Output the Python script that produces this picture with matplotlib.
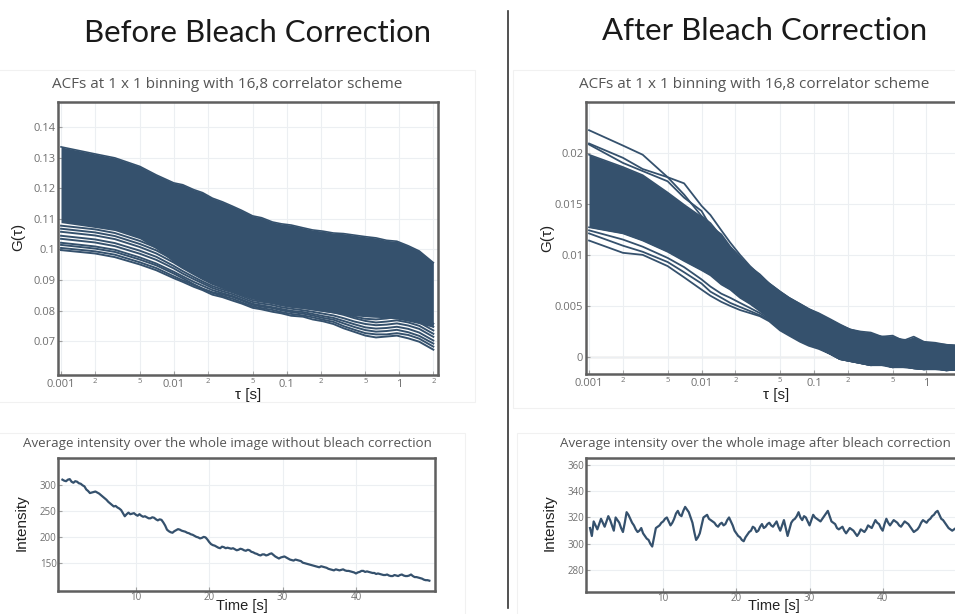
import matplotlib
matplotlib.use("Agg")
import matplotlib.pyplot as plt
from matplotlib.ticker import FixedLocator, FixedFormatter
from matplotlib.patches import Rectangle

W, H = 955, 614
LINE = "#35516d"
FRAME = "#5f5f5f"
GRID = "#eceff2"
TICKLAB = "#6f6f6f"

# ---------------------------------------------------------------- data
# correlator lag times [s]
lags = [0.001, 0.002, 0.003, 0.005, 0.007, 0.01, 0.012, 0.015, 0.018, 0.022,
        0.027, 0.033, 0.04, 0.05, 0.06, 0.075, 0.09, 0.11, 0.14, 0.17,
        0.21, 0.26, 0.32, 0.4, 0.5, 0.62, 0.77, 0.95, 1.2, 1.5, 2.0]

# ACFs before bleach correction: dense bundle (upper / lower edge of the core)
before_core_hi = [.1336, .1313, .1300, .1272, .1244, .1218, .1212, .1196, .1186, .1168,
                  .1156, .1142, .1128, .1110, .1104, .1090, .1084, .1080, .1071, .1064,
                  .1060, .1054, .1052, .1047, .1042, .1038, .1030, .1027, .1012, .0995, .0957]
before_core_lo = [.1088, .1072, .1062, .1035, .1002, .0958, .0940, .0920, .0903, .0886,
                  .0872, .0860, .0850, .0838, .0831, .0824, .0818, .0812, .0807, .0802,
                  .0797, .0792, .0787, .0783, .0780, .0778, .0776, .0772, .0765, .0757, .0745]
# ACFs before bleach correction: separated curves below the bundle
before_curves = [
    [.1078, .1066, .1054, .1028, .1006, .0975, .0955, .0933, .0917, .0899, .0888, .0878, .0866, .0852, .0847, .0842,
     .0836, .0831, .0827, .0822, .0817, .0812, .0806, .0797, .0791, .0790, .0794, .0800, .0795, .0784, .0757],
    [.1068, .1056, .1044, .1018, .0997, .0966, .0947, .0926, .0910, .0893, .0882, .0872, .0860, .0846, .0841, .0836,
     .0830, .0825, .0821, .0815, .0810, .0805, .0798, .0789, .0782, .0781, .0784, .0790, .0784, .0773, .0747],
    [.1058, .1046, .1034, .1008, .0987, .0957, .0939, .0919, .0903, .0887, .0876, .0866, .0854, .0840, .0835, .0830,
     .0823, .0818, .0814, .0808, .0802, .0797, .0790, .0780, .0773, .0771, .0774, .0779, .0773, .0761, .0735],
    [.1045, .1033, .1021, .0996, .0976, .0946, .0929, .0910, .0895, .0880, .0869, .0860, .0848, .0834, .0829, .0824,
     .0817, .0812, .0808, .0804, .0799, .0794, .0786, .0775, .0766, .0761, .0764, .0768, .0761, .0750, .0724],
    [.1035, .1023, .1011, .0986, .0966, .0938, .0921, .0903, .0889, .0874, .0863, .0854, .0842, .0828, .0823, .0818,
     .0811, .0806, .0801, .0796, .0790, .0784, .0775, .0764, .0756, .0752, .0754, .0758, .0751, .0740, .0714],
    [.1022, .1010, .0999, .0974, .0954, .0927, .0912, .0894, .0881, .0867, .0857, .0848, .0836, .0822, .0817, .0811,
     .0805, .0799, .0795, .0789, .0782, .0776, .0766, .0755, .0745, .0741, .0743, .0747, .0740, .0728, .0702],
    [.1015, .1003, .0992, .0967, .0948, .0921, .0906, .0886, .0872, .0860, .0853, .0845, .0833, .0819, .0813, .0808,
     .0801, .0795, .0790, .0784, .0776, .0770, .0758, .0746, .0736, .0731, .0733, .0737, .0729, .0717, .0692],
    [.1005, .0994, .0983, .0958, .0939, .0912, .0899, .0884, .0871, .0858, .0848, .0839, .0827, .0814, .0808, .0802,
     .0795, .0789, .0784, .0778, .0770, .0763, .0749, .0737, .0726, .0722, .0722, .0726, .0720, .0708, .0682],
    [.0998, .0987, .0975, .0951, .0932, .0906, .0894, .0878, .0867, .0852, .0844, .0833, .0823, .0809, .0804, .0796,
     .0791, .0783, .0780, .0771, .0765, .0756, .0742, .0730, .0718, .0712, .0715, .0718, .0709, .0698, .0672],
]

# ACFs after bleach correction: dense bundle
after_core_hi = [.0198, .0186, .0178, .0161, .0149, .0137, .0129, .0118, .0107, .0097,
                 .0088, .0081, .0072, .0064, .0058, .0052, .0047, .0043, .0037, .0032,
                 .0027, .0025, .0024, .0020, .0021, .0016, .0020, .0015, .0014, .0012, .0011]
after_core_lo = [.0127, .0121, .0114, .0103, .0094, .0085, .0080, .0071, .0066, .0058,
                 .0052, .0045, .0038, .0027, .0022, .0016, .0012, .0009, .0003, -.0002,
                 -.0004, -.0006, -.0008, -.0007, -.0010, -.0009, -.0011, -.0012, -.0011, -.0013, -.0012]
# ACFs after bleach correction: separated curves
after_curves = [
    [.0222, .0207, .0198, .0176, .0159, .0138, .0131, .0118, .0104, .0096, .0086, .0079, .0072, .0064, .0058, .0052,
     .0047, .0042, .0036, .0031, .0027, .0024, .0022, .0020, .0019, .0017, .0016, .0014, .0013, .0012, .0011],
    [.0209, .0195, .0184, .0176, .0170, .0148, .0139, .0124, .0112, .0100, .0089, .0080, .0071, .0063, .0057, .0051,
     .0046, .0042, .0036, .0031, .0026, .0023, .0021, .0019, .0018, .0016, .0015, .0013, .0012, .0011, .0010],
    [.0208, .0190, .0182, .0172, .0156, .0143, .0128, .0120, .0108, .0098, .0086, .0078, .0070, .0062, .0056, .0050,
     .0045, .0041, .0035, .0030, .0025, .0022, .0020, .0018, .0017, .0015, .0014, .0012, .0011, .0010, .0009],
    [.0124, .0115, .0108, .0097, .0088, .0076, .0069, .0062, .0058, .0053, .0048, .0043, .0037, .0027, .0022, .0016,
     .0012, .0009, .0003, -.0002, -.0004, -.0006, -.0008, -.0007, -.0010, -.0009, -.0011, -.0012, -.0011, -.0013, -.0012],
    [.0121, .0109, .0103, .0093, .0083, .0072, .0064, .0058, .0053, .0049, .0045, .0041, .0036, .0027, .0022, .0016,
     .0012, .0009, .0003, -.0002, -.0004, -.0006, -.0008, -.0007, -.0010, -.0009, -.0011, -.0012, -.0011, -.0013, -.0012],
    [.0114, .0102, .0100, .0089, .0078, .0066, .0060, .0054, .0050, .0046, .0043, .0040, .0035, .0026, .0021, .0015,
     .0011, .0008, .0003, -.0002, -.0004, -.0006, -.0008, -.0008, -.0010, -.0010, -.0011, -.0012, -.0012, -.0013, -.0012],
]

# average image intensity over the 50 s acquisition (one value per 0.25 s)
intensity_before = [
    311, 309, 308, 311, 312, 307, 305, 308, 307, 304, 303, 300, 298, 292, 289, 285, 286, 287, 288, 286,
    284, 281, 278, 275, 272, 268, 265, 262, 259, 260, 257, 255, 252, 246, 240, 244, 247, 244, 245, 246,
    243, 241, 244, 241, 239, 240, 238, 236, 236, 238, 237, 234, 232, 234, 233, 228, 222, 214, 211, 209,
    208, 211, 213, 215, 214, 212, 211, 210, 208, 207, 205, 204, 202, 200, 199, 197, 198, 200, 199, 195,
    190, 186, 184, 183, 181, 179, 178, 181, 180, 178, 179, 178, 177, 178, 176, 174, 175, 177, 176, 174,
    173, 175, 174, 171, 170, 168, 167, 165, 164, 166, 166, 164, 165, 167, 168, 165, 162, 160, 158, 160,
    161, 162, 160, 158, 156, 155, 154, 156, 155, 154, 153, 150, 149, 148, 147, 146, 145, 144, 143, 142,
    141, 143, 142, 141, 140, 138, 137, 136, 135, 137, 136, 135, 136, 137, 135, 134, 134, 133, 132, 131,
    129, 131, 132, 134, 134, 132, 133, 132, 131, 130, 130, 128, 129, 128, 127, 126, 126, 127, 125, 124,
    124, 126, 125, 124, 126, 127, 125, 124, 124, 125, 127, 124, 122, 122, 121, 120, 119, 117, 116, 116,
    115]
intensity_after = [
    312, 306, 317, 314, 311, 315, 319, 316, 313, 317, 321, 318, 314, 310, 320, 318, 316, 312, 309, 316,
    324, 322, 319, 316, 314, 311, 309, 310, 312, 308, 306, 304, 303, 300, 298, 305, 312, 313, 314, 316,
    317, 319, 320, 317, 314, 316, 319, 323, 325, 322, 321, 325, 328, 326, 324, 320, 316, 309, 303, 305,
    308, 314, 320, 321, 322, 319, 318, 317, 316, 314, 313, 315, 316, 314, 315, 318, 320, 317, 314, 310,
    308, 306, 305, 303, 302, 305, 307, 309, 310, 313, 312, 309, 310, 313, 315, 312, 313, 315, 316, 314,
    313, 315, 317, 313, 310, 314, 318, 312, 306, 311, 316, 318, 319, 321, 324, 320, 318, 321, 320, 317,
    314, 318, 322, 320, 319, 318, 317, 319, 321, 323, 325, 321, 317, 316, 315, 312, 311, 312, 313, 310,
    308, 310, 312, 311, 310, 308, 306, 308, 311, 310, 309, 311, 314, 313, 312, 315, 318, 316, 315, 312,
    310, 315, 319, 316, 314, 316, 318, 317, 316, 314, 313, 315, 317, 316, 315, 313, 311, 309, 310, 311,
    313, 316, 318, 317, 316, 318, 319, 321, 322, 324, 325, 322, 319, 318, 316, 314, 312, 311, 310, 311,
    312]
time_before = [50 * i / (len(intensity_before) - 1) for i in range(len(intensity_before))]
time_after = [50 * i / (len(intensity_after) - 1) for i in range(len(intensity_after))]

lag_major = [0.001, 0.01, 0.1, 1]
lag_major_labels = ["0.001", "0.01", "0.1", "1"]
lag_minor = [0.002, 0.005, 0.02, 0.05, 0.2, 0.5, 2]
lag_minor_labels = ["2", "5", "2", "5", "2", "5", "2"]
lag_minor_labels_after = ["2", "5", "2", "5", "2", "5", ""]
before_yticks = [0.07, 0.08, 0.09, 0.1, 0.11, 0.12, 0.13, 0.14]
after_yticks = [0, 0.005, 0.01, 0.015, 0.02]
time_ticks = [10, 20, 30, 40]
int_before_ticks = [150, 200, 250, 300]
int_after_ticks = [280, 300, 320, 340, 360]

# ---------------------------------------------------------------- figure
plt.rcParams["font.family"] = ["Open Sans", "DejaVu Sans"]
fig = plt.figure(figsize=(W / 100, H / 100), dpi=100)
fig.patch.set_facecolor("white")


def fx(x):
    return x / W


def fy(y):
    return 1 - y / H


def px_axes(x0, y0, x1, y1):
    return fig.add_axes([x0 / W, 1 - y1 / H, (x1 - x0) / W, (y1 - y0) / H])


# faint panel outlines
for (x0, y0, x1, y1) in [(-2, 70, 475, 402), (513, 70, 960, 408),
                         (-2, 433, 465, 620), (517, 433, 960, 620)]:
    fig.patches.append(Rectangle((fx(x0), fy(y1)), (x1 - x0) / W, (y1 - y0) / H,
                                 transform=fig.transFigure, fill=False,
                                 edgecolor="#f1f1f1", linewidth=0.8, zorder=0))


def style(ax, labelsize=8, pad=2):
    for s in ax.spines.values():
        s.set_color(FRAME)
        s.set_linewidth(1.8)
    ax.tick_params(which="both", direction="in", length=3, color="#a0a0a0",
                   labelcolor=TICKLAB, labelsize=labelsize, pad=pad)
    ax.grid(True, which="both", color=GRID, linewidth=0.8)
    ax.set_axisbelow(True)


def acf_axes(ax, minor_labels):
    ax.set_xscale("log")
    ax.set_xlim(0.00094, 2.2)
    ax.xaxis.set_major_locator(FixedLocator(lag_major))
    ax.xaxis.set_major_formatter(FixedFormatter(lag_major_labels))
    ax.xaxis.set_minor_locator(FixedLocator(lag_minor))
    ax.xaxis.set_minor_formatter(FixedFormatter(minor_labels))
    ax.tick_params(axis="x", which="minor", labelsize=5.5, pad=2)
    ax.tick_params(axis="x", which="major", pad=3)


# --- ACF before
ax1 = px_axes(58, 102, 438, 375)
style(ax1)
acf_axes(ax1, lag_minor_labels)
ax1.set_ylim(0.0589, 0.1483)
ax1.set_yticks(before_yticks)
ax1.set_yticklabels([f"{v:g}" for v in before_yticks])
ax1.fill_between(lags, before_core_lo, before_core_hi, color=LINE, linewidth=0)
ax1.plot(lags, before_core_hi, color=LINE, lw=1.2)
for c in before_curves:
    ax1.plot(lags, c, color=LINE, lw=1.4, solid_joinstyle="round")

# --- ACF after
ax2 = px_axes(586, 102, 965, 374)
style(ax2)
acf_axes(ax2, lag_minor_labels_after)
ax2.set_ylim(-0.00166, 0.02496)
ax2.set_yticks(after_yticks)
ax2.set_yticklabels([f"{v:g}" for v in after_yticks])
ax2.axhline(0, color="#c8c8c8", lw=1.0, zorder=0.5)
ax2.fill_between(lags, after_core_lo, after_core_hi, color=LINE, linewidth=0)
ax2.plot(lags, after_core_hi, color=LINE, lw=1.2)
ax2.plot(lags, after_core_lo, color=LINE, lw=1.2)
for c in after_curves:
    ax2.plot(lags, c, color=LINE, lw=1.3, solid_joinstyle="round")

# --- intensity before
ax3 = px_axes(58, 458, 434.5, 591)
style(ax3, labelsize=7, pad=1)
ax3.set_xlim(-0.6, 50.7)
ax3.set_ylim(95, 353)
ax3.set_xticks(time_ticks)
ax3.set_yticks(int_before_ticks)
ax3.plot(time_before, intensity_before, color=LINE, lw=1.6)

# --- intensity after
ax4 = px_axes(586, 458, 961, 592)
style(ax4, labelsize=7, pad=1)
ax4.set_xlim(-0.55, 50.7)
ax4.set_ylim(263.6, 365)
ax4.set_xticks(time_ticks)
ax4.set_yticks(int_after_ticks)
ax4.plot(time_after, intensity_after, color=LINE, lw=1.6)

# ---------------------------------------------------------------- text
head = dict(family=["Lato", "DejaVu Sans"], fontsize=22.4, color="#1a1a1a",
            ha="center", va="center")
fig.text(fx(257), fy(33), "Before Bleach Correction", **head)
fig.text(fx(765), fy(31), "After Bleach Correction", **head)

sub_top = dict(fontsize=11, color="#555555", ha="center", va="center")
sub_bot = dict(fontsize=9.6, color="#555555", ha="center", va="center")
fig.text(fx(227), fy(85), "ACFs at 1 x 1 binning with 16,8 correlator scheme", **sub_top)
fig.text(fx(754), fy(85), "ACFs at 1 x 1 binning with 16,8 correlator scheme", **sub_top)
fig.text(fx(227), fy(443), "Average intensity over the whole image without bleach correction", **sub_bot)
fig.text(fx(755), fy(443), "Average intensity over the whole image after bleach correction", **sub_bot)

lab = dict(family=["Liberation Sans", "DejaVu Sans"], fontsize=11, color="#222222",
           ha="center", va="center")
fig.text(fx(248), fy(395), "τ [s]", **lab)
fig.text(fx(776), fy(395), "τ [s]", **lab)
fig.text(fx(18), fy(237), "G(τ)", rotation=90, **lab)
fig.text(fx(547), fy(238), "G(τ)", rotation=90, **lab)
fig.text(fx(22), fy(523), "Intensity", rotation=90, **lab)
fig.text(fx(550), fy(523), "Intensity", rotation=90, **lab)
tlab = dict(lab, fontsize=10.5)
fig.text(fx(242), fy(606), "Time [s]", **tlab)
fig.text(fx(774), fy(606), "Time [s]", **tlab)

# divider between the two halves
fig.add_artist(plt.Line2D([fx(508), fx(508)], [fy(11), fy(608)],
                          transform=fig.transFigure, color="#333333", lw=1.2))

fig.savefig("out.png", dpi=100, facecolor="white")
